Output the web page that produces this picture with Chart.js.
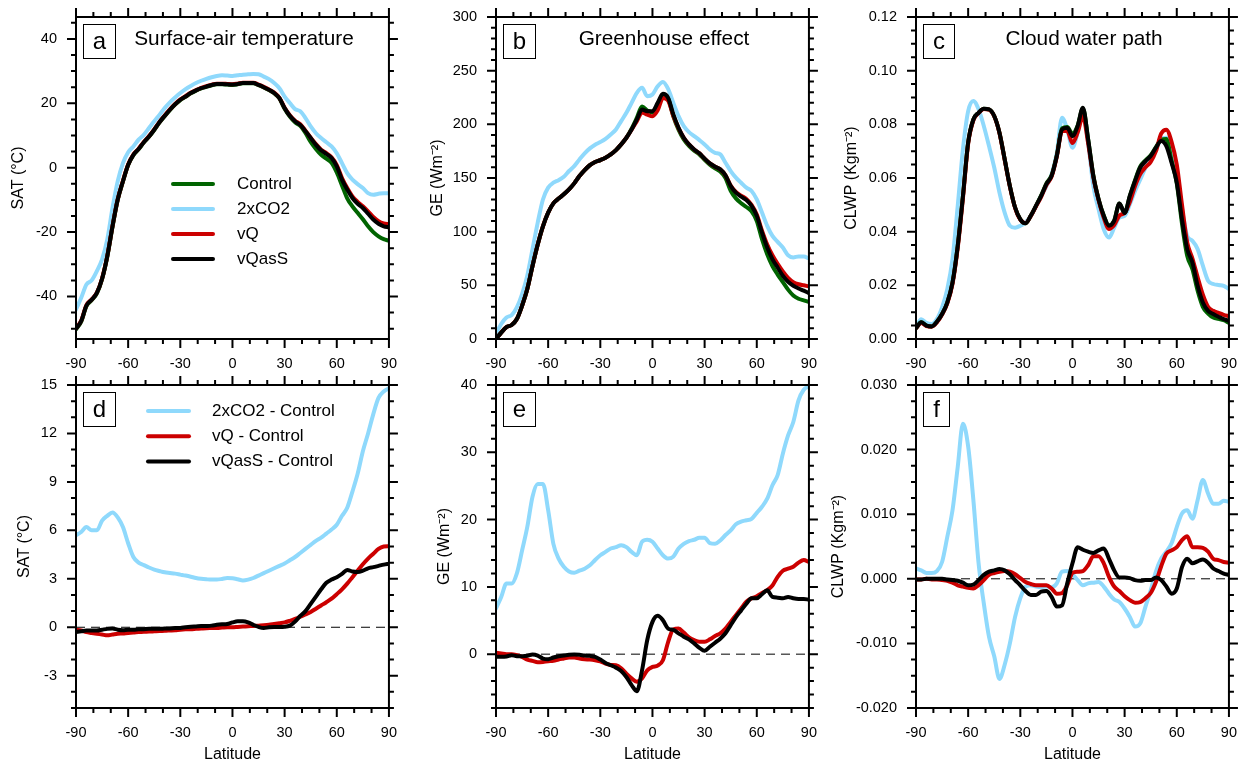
<!DOCTYPE html>
<html>
<head>
<meta charset="utf-8">
<script src="https://cdn.jsdelivr.net/npm/chart.js@4.4.1/dist/chart.umd.min.js"></script>
<style>
html,body{margin:0;padding:0;background:#fff;overflow:hidden;width:1253px;height:764px;}
canvas{position:absolute;}
</style>
</head>
<body>
<script>
// ---------------- DATA ----------------
const lats = [-90,-87,-84,-81,-78,-75,-72,-69,-66,-63,-60,-57,-54,-51,-48,-45,-42,-39,-36,-33,-30,-27,-24,-21,-18,-15,-12,-9,-6,-3,0,3,6,9,12,15,18,21,24,27,30,33,36,39,42,45,48,51,54,57,60,63,66,69,72,75,78,81,84,87,90];
const latTicks = [-90,-60,-30,0,30,60,90];
const refLat = [-90, 90];
const refZero = [0, 0];

const seriesNames = ['Control','2xCO2','vQ','vQasS'];
const diffNames = ['2xCO2 - Control','vQ - Control','vQasS - Control'];

// (a) Surface-air temperature (degC)
const satTicks = [-40,-20,0,20,40];
const satControl = [-50.2,-47.8,-43,-41.2,-39,-34.6,-27.6,-18.4,-10,-4.3, 0.8,3.9,5.7,7.8,9.6,11.7,14,16,17.9,19.6, 21,22,23.1,23.9,24.6,25.1,25.6,25.9,25.9,25.8, 25.7,25.9,26.2,26.2,26.2,25.6,24.9,24.1,23.1,21.5, 18.3,15.9,14.1,13,10.8,8,5.8,4,2.8,1.5, -1.5,-5.5,-9.5,-12,-14,-16,-18.2,-20,-21.3,-22.2,-22.7];
const sat2xCO2 = [-44,-40.4,-36.3,-35,-32.1,-28.5,-22.3,-12.5,-4.2,1.4, 4.8,6.6,8.7,10.2,12.3,14.4,16.4,18.5,20.3,21.8, 23.2,24.4,25.4,26.3,27,27.6,28.1,28.5,28.7,28.6, 28.5,28.7,28.9,29,29.1,29,28.3,27.5,26.3,24.7, 22.1,20.1,18.2,17.5,15.4,12.8,10.7,9.2,7.9,6.6, 4.5,1.4,-1.7,-3.7,-5.1,-6.3,-7.9,-8.4,-8.1,-7.9,-7.9];
const satVQ = [-49.9,-47.5,-42.7,-40.9,-38.8,-34.4,-27.4,-18.1,-9.8,-4.1, 1,4.1,5.9,8,9.8,11.9,14.2,16.2,18.1,19.8, 21.2,22.2,23.3,24.1,24.8,25.3,25.8,26.1,26.1,26, 25.9,26.1,26.4,26.4,26.4,25.8,25.1,24.3,23.3,21.7, 18.6,16.3,14.6,13.5,11.5,9.3,7.3,5.6,4.5,3.2, 0.8,-3.2,-6.3,-8.9,-10.6,-12,-13.6,-15.3,-16.6,-17.3,-17.5];
const satVQasS = [-50,-47.6,-42.8,-41,-38.9,-34.5,-27.5,-18.2,-9.9,-4.2, 0.9,4,5.8,7.9,9.7,11.8,14.1,16.1,18,19.7, 21.1,22.1,23.2,24,24.7,25.2,25.7,26,26,25.9, 25.8,26,26.3,26.3,26.3,25.7,25,24.2,23.2,21.6, 18.5,16.1,14.4,13.3,11.3,9.2,7.1,5.4,4.3,3, 0.4,-3.7,-6.8,-9.4,-11.2,-12.5,-14.3,-16.1,-17.4,-18.2,-18.5];

// (b) Greenhouse effect (W m-2)
const geTicks = [0,50,100,150,200,250,300];
const geControl = [0,6,11,13,18.6,31,46.5,68,88,105, 117.8,126.4,130.8,134.8,139.4,145,151.8,157.4,162,164.9, 166.7,168.9,172,176,181.3,187.5,196,206,216.5,213, 211,218,227,224,207.5,195,186,180,175.5,172, 167,162.5,159,156,150,138,131,126.5,123,119, 110,93,79,68,60,53,46,40.5,37.5,36,34.5];
const ge2xCO2 = [4.6,14,20,22.3,29.4,41.8,59,83.7,108.5,130, 141,145.6,148,151.2,156.5,161.1,167.3,173,177.6,181, 183.5,186.5,190.6,195.2,203,210.7,220,229.3,234,226.2, 227.8,235.5,239.5,233,220,207.6,198.3,192.7,189,185.3, 181.3,176.6,173.5,172,164.2,156.5,150.3,145.6,141,137.9, 130,117.8,105.4,96,90.5,85.2,78,76,76.9,76.9,75];
const geVQ = [0,6,11,13,18.6,31,46.5,68,88,105, 117.8,126.4,130.8,134.8,139.4,145,151.8,157.4,162,164.9, 166.7,168.9,172,176,181.3,187.5,195,203,211,209, 207.5,213,224.5,222,208,196.5,187.5,181.3,176.6,173, 168,163.6,160.5,158,152.5,143,137,133.5,130.5,125, 116,101,88,78,70,63,57,53,51,50,49];
const geVQasS = [0,6,11,13,18.6,31,46.5,68,88,105, 117.8,126.4,130.8,134.8,139.4,145,151.8,157.4,162,164.9, 166.7,168.9,172,176,181.3,187.5,195.2,204.5,213.8,212.3, 212.3,220,228.4,224.7,209.2,196.8,187.5,181.3,176.6,173, 168,163.6,160.5,158,152.5,142.5,136.3,132.6,129.5,124, 114.7,99.2,85.2,74.4,66.6,58.9,53.3,49.6,47.1,45,42.8];

// (c) Cloud water path (kg m-2)
const cwTicks = [0,0.02,0.04,0.06,0.08,0.10,0.12];
const cwControl = [.004,.0062,.005,.0047,.0064,.0093,.0136,.021,.0347,.0533, .0732,.0818,.0843,.0858,.0856,.0831,.0769,.067,.057,.049, .0446,.0431,.0459,.0496,.0535,.058,.061,.0685,.0785,.079, .0765,.0796,.086,.0745,.061,.0522,.046,.0423,.0441,.0505, .047,.0533,.0592,.0643,.0666,.0685,.0715,.0742,.0745,.0665, .058,.043,.031,.026,.018,.012,.0095,.008,.0075,.007,.006];
const cw2xCO2 = [.0043,.0074,.006,.0056,.0074,.0118,.0186,.0298,.0496,.0707, .0849,.0887,.0856,.0794,.0719,.0639,.0546,.0471,.0422,.0415, .0422,.0434,.0459,.0496,.0533,.057,.0614,.0694,.0825,.0781, .0713,.0769,.0843,.0732,.057,.0484,.0409,.0378,.0415,.0453, .0459,.0502,.0552,.0595,.0639,.0676,.0707,.0744,.075,.0707, .0608,.0484,.0384,.0366,.0335,.0273,.0217,.0205,.0201,.0198,.0186];
const cwVQ = [.0041,.006,.0048,.0046,.0062,.0091,.0133,.0205,.034,.0525, .0728,.0815,.0842,.0857,.0855,.083,.0768,.0668,.0568,.0489, .0445,.0432,.0458,.0494,.053,.0574,.0605,.068,.0775,.0775, .073,.077,.083,.073,.0603,.0518,.0452,.041,.0425,.046, .047,.051,.057,.0615,.064,.066,.07,.0765,.078,.0735, .065,.05,.036,.03,.023,.0165,.012,.0105,.0097,.009,.0085];
const cwVQasS = [.004,.0062,.005,.0047,.0064,.0093,.0136,.021,.0347,.0533, .0732,.0818,.0843,.0858,.0856,.0831,.0769,.067,.057,.049, .0446,.0431,.0459,.0496,.0533,.0577,.0608,.0682,.0781,.0787, .0756,.0794,.0862,.0744,.0608,.0521,.0459,.0422,.044,.0505, .047,.0533,.0589,.0639,.0663,.0682,.0713,.0738,.0719,.0657, .0583,.0446,.0335,.0285,.0198,.0136,.0105,.0093,.0083,.0074,.0068];

// (d) SAT differences (degC)
const dSatTicks = [-3,0,3,6,9,12,15];
const dSat2xCO2 = [5.7,5.9,6.2,6.0,6.0,6.6,6.9,7.1,6.8,6.2, 5.2,4.35,4.0,3.85,3.7,3.57,3.48,3.4,3.36,3.32, 3.26,3.2,3.13,3.05,3.0,2.97,2.95,2.95,2.99,3.05, 3.03,2.97,2.9,2.95,3.05,3.2,3.35,3.5,3.65,3.8, 3.95,4.15,4.35,4.6,4.85,5.1,5.35,5.55,5.8,6.05, 6.35,6.9,7.4,8.4,9.5,10.9,12,13.2,14.2,14.6,14.8];
const dSatVQ = [-0.15,-0.2,-0.3,-0.35,-0.4,-0.45,-0.5,-0.45,-0.4,-0.38, -0.35,-0.33,-0.3,-0.28,-0.27,-0.25,-0.23,-0.22,-0.2,-0.18, -0.15,-0.13,-0.12,-0.1,-0.08,-0.06,-0.05,-0.04,-0.02,0, 0,0.02,0.04,0.06,0.08,0.1,0.12,0.15,0.2,0.25, 0.3,0.4,0.52,0.65,0.8,0.95,1.15,1.35,1.55,1.77, 2.05,2.35,2.7,3.1,3.5,3.9,4.25,4.55,4.85,5.0,5.02];
const dSatVQasS = [-0.3,-0.25,-0.2,-0.2,-0.2,-0.15,-0.1,-0.08,-0.15,-0.18, -0.15,-0.15,-0.13,-0.12,-0.1,-0.1,-0.1,-0.08,-0.07,-0.05, -0.04,0,0.03,0.05,0.07,0.08,0.1,0.15,0.18,0.2, 0.3,0.37,0.37,0.3,0.15,0.02,-0.05,0,0.02,0.02, 0.03,0.1,0.35,0.7,1.0,1.45,1.9,2.35,2.75,2.95, 3.1,3.3,3.55,3.45,3.42,3.5,3.65,3.72,3.8,3.88,3.94];

// (e) GE differences (W m-2)
const dGeTicks = [0,10,20,30,40];
const dGe2xCO2 = [6.8,8.5,10.5,10.5,12,15.4,18.9,23.4,25.3,25.3, 21.4,16.4,14.2,13,12.3,12.1,12.4,12.7,13.2,14, 14.7,15.2,15.7,15.9,16.2,15.9,15.2,14.7,16.7,17, 16.7,15.7,14.7,14.2,14.5,15.7,16.4,16.8,17,17.3, 17.3,16.5,16.4,16.9,17.7,18.4,19.3,19.7,19.9,20.1, 21,21.9,23.1,25.1,26.6,29.8,32.5,34.5,37.7,39.3,39.8];
const dGeVQ = [0.2,0.1,0,0,-0.15,-0.4,-0.8,-1,-1.2,-1.15, -1.05,-1,-0.8,-0.65,-0.5,-0.5,-0.65,-0.75,-0.8,-0.9, -1.05,-1.4,-1.6,-1.65,-2.1,-2.9,-3.6,-4.1,-3.6,-2.4, -1.9,-1.7,-0.9,1.8,3.7,3.8,3.2,2.5,2.1,1.85, 1.85,2.2,2.7,3.1,3.8,4.8,5.8,6.8,7.8,8.3, 8.6,9.1,9.5,10.2,11.5,12.4,12.7,13,13.6,14,13.7];
const dGeVQasS = [-0.4,-0.4,-0.35,-0.15,-0.3,-0.3,-0.25,-0.05,-0.2,-0.65, -0.75,-0.5,-0.3,-0.2,-0.1,-0.05,-0.1,-0.2,-0.25,-0.4, -0.8,-1.3,-1.65,-2,-2.5,-3.4,-4.6,-5.5,-2.4,2.1, 4.8,5.7,5.05,3.8,3.6,3.1,2.6,2.2,1.6,0.95, 0.5,1.1,1.7,2.3,3.1,4.3,5.5,6.5,7.5,8.3, 8.3,8.9,9.5,8.5,8.4,8.3,8.5,8.3,8.2,8.2,8.1];

// (f) CLWP differences (kg m-2)
const dCwTicks = [-0.02,-0.01,0,0.01,0.02,0.03];
const dCw2xCO2 = [.0016,.0013,.0009,.0009,.0012,.0026,.0065,.0106,.0173,.024, .0205,.0122,.0024,-.0038,-.009,-.012,-.0155,-.0133,-.01,-.0059, -.003,-.0012,-.001,-.0012,-.0013,-.0012,-.0013,-.0007,.0011,.0012, .0007,-.0002,-.001,-.0007,-.0006,-.0005,-.0012,-.0023,-.0032,-.0036, -.0046,-.0059,-.0074,-.0069,-.0043,-.0018,.0011,.0031,.0042,.0055, .008,.0101,.0106,.0093,.0122,.0153,.0132,.0116,.0116,.0121,.0119];
const dCwVQ = [-.0001,-.0001,0,-.0001,-.0001,-.0002,-.0003,-.0006,-.001,-.0012, -.0014,-.0015,-.001,-.0002,.0006,.0009,.0011,.0012,.0011,.0007, .0001,-.0005,-.0008,-.001,-.001,-.001,-.0015,-.0023,-.0022,-.001, .0009,.0011,.0012,.0021,.0035,.0035,.0024,.0003,-.0012,-.0019, -.0027,-.0033,-.0037,-.0036,-.003,-.0022,-.0005,.0019,.0039,.0044, .0049,.006,.0066,.0049,.0049,.0048,.0042,.0031,.0029,.0026,.0025];
const dCwVQasS = [-.0001,-.0001,0,0,0,0,-.0001,-.0002,-.0003,-.0006, -.001,-.0009,-.0002,.0006,.0011,.0013,.0015,.0013,.0007,-.0002, -.001,-.0019,-.0025,-.0025,-.002,-.0019,-.0028,-.0043,-.0041,-.0007, .0024,.0049,.0045,.0042,.004,.0044,.0047,.0031,.0013,.0002, .0002,.0001,-.0002,-.0003,-.0002,-.0002,.0002,-.0002,-.0012,-.0023, -.0015,.0018,.0031,.0024,.0027,.003,.0025,.0016,.0012,.0008,.0006];

// ---------------- STYLE ----------------
const FONT = '"Liberation Sans", Arial, Helvetica, sans-serif';
const C_CONTROL = '#006400', C_CO2 = '#8fd9fc', C_VQ = '#cc0000', C_VQASS = '#000000';

function lineDs(label, values, color, order) {
  return {
    label, data: lats.map((x, i) => ({x, y: values[i]})),
    borderColor: color, backgroundColor: color, borderWidth: 4,
    pointRadius: 0, cubicInterpolationMode: 'monotone', order,
    borderCapStyle: 'round', borderJoinStyle: 'round', fill: false
  };
}
function zeroDs() {
  return {
    label: '', data: refLat.map((x, i) => ({x, y: refZero[i]})),
    borderColor: '#000', borderWidth: 1, borderDash: [9, 6],
    pointRadius: 0, order: 10, fill: false
  };
}

const decoPlugin = {
  id: 'deco',
  afterDraw(chart, args, o) {
    const ctx = chart.ctx, a = chart.chartArea;
    const xs = chart.scales.x, ys = chart.scales.y;
    ctx.save();
    ctx.strokeStyle = '#000'; ctx.lineWidth = 2; ctx.lineCap = 'butt';
    const drawTicks = (scale, minor, major, horizontal) => {
      const start = Math.ceil(scale.min / minor - 1e-9);
      const end = Math.floor(scale.max / minor + 1e-9);
      ctx.beginPath();
      for (let k = start; k <= end; k++) {
        const v = k * minor;
        const isMajor = Math.abs(v / major - Math.round(v / major)) < 1e-6;
        const len = isMajor ? 9 : 5;
        const p = scale.getPixelForValue(v);
        if (horizontal) {
          ctx.moveTo(p, a.bottom); ctx.lineTo(p, a.bottom + len);
          ctx.moveTo(p, a.top); ctx.lineTo(p, a.top - len);
        } else {
          ctx.moveTo(a.left, p); ctx.lineTo(a.left - len, p);
          ctx.moveTo(a.right, p); ctx.lineTo(a.right + len, p);
        }
      }
      ctx.stroke();
    };
    drawTicks(xs, o.xMinor, o.xMajor, true);
    drawTicks(ys, o.yMinor, o.yMajor, false);
    ctx.strokeRect(a.left, a.top, a.right - a.left, a.bottom - a.top);

    // panel letter box
    ctx.font = '24px ' + FONT;
    const tw = ctx.measureText(o.letter).width;
    const bx = Math.round(a.left + 7) + 0.5, by = Math.round(a.top + 7) + 0.5, bw = Math.round(tw + 19), bh = 34;
    ctx.lineWidth = 1; ctx.strokeRect(bx, by, bw, bh);
    ctx.fillStyle = '#000'; ctx.textAlign = 'center'; ctx.textBaseline = 'middle';
    ctx.fillText(o.letter, bx + bw / 2, by + bh / 2 + 1);
    if (o.title) {
      ctx.font = '20.8px ' + FONT;
      ctx.fillText(o.title, a.left + 168, a.top + 22);
    }
    if (o.legend) {
      const L = o.legend;
      ctx.font = '17px ' + FONT; ctx.textAlign = 'left';
      L.items.forEach((idx, j) => {
        const ds = chart.data.datasets[idx];
        const y = a.top + L.y0 + j * L.dy;
        ctx.strokeStyle = ds.borderColor; ctx.lineWidth = 4; ctx.lineCap = 'round';
        ctx.beginPath(); ctx.moveTo(a.left + L.x0, y); ctx.lineTo(a.left + L.x1, y); ctx.stroke();
        ctx.fillText(ds.label, a.left + L.tx, y);
      });
    }
    ctx.restore();
  }
};

const PLOT_W = 323, WR = 14, HT = 28;
const panels = [
  {letter:'a', cl:11, ct:17 - HT, wl:65, ph:322, hb:40, bottomRow:false,
   yMin:-53.2, yMax:46.8, yTicks:satTicks, yMinor:5, yMajor:20, dec:0, yTitle:'SAT (°C)',
   title:'Surface-air temperature',
   datasets:[lineDs(seriesNames[0], satControl, C_CONTROL, 2), lineDs(seriesNames[1], sat2xCO2, C_CO2, 3), lineDs(seriesNames[2], satVQ, C_VQ, 1), lineDs(seriesNames[3], satVQasS, C_VQASS, 0)],
   legend:{items:[0,1,2,3], x0:97, x1:137, tx:161, y0:167, dy:25}},
  {letter:'b', cl:430, ct:17 - HT, wl:66, ph:322, hb:40, bottomRow:false,
   yMin:0, yMax:300, yTicks:geTicks, yMinor:10, yMajor:50, dec:0, yTitle:'GE (Wm⁻²)',
   title:'Greenhouse effect',
   datasets:[lineDs(seriesNames[0], geControl, C_CONTROL, 2), lineDs(seriesNames[1], ge2xCO2, C_CO2, 3), lineDs(seriesNames[2], geVQ, C_VQ, 1), lineDs(seriesNames[3], geVQasS, C_VQASS, 0)]},
  {letter:'c', cl:844, ct:17 - HT, wl:72, ph:322, hb:40, bottomRow:false,
   yMin:0, yMax:0.12, yTicks:cwTicks, yMinor:0.005, yMajor:0.02, dec:2, yTitle:'CLWP (Kgm⁻²)',
   title:'Cloud water path',
   datasets:[lineDs(seriesNames[0], cwControl, C_CONTROL, 2), lineDs(seriesNames[1], cw2xCO2, C_CO2, 3), lineDs(seriesNames[2], cwVQ, C_VQ, 1), lineDs(seriesNames[3], cwVQasS, C_VQASS, 0)]},
  {letter:'d', cl:17, ct:385 - HT, wl:59, ph:323, hb:55, bottomRow:true,
   yMin:-5, yMax:15, yTicks:dSatTicks, yMinor:1, yMajor:3, dec:0, yTitle:'SAT (°C)',
   datasets:[lineDs(diffNames[0], dSat2xCO2, C_CO2, 3), lineDs(diffNames[1], dSatVQ, C_VQ, 1), lineDs(diffNames[2], dSatVQasS, C_VQASS, 0), zeroDs()],
   legend:{items:[0,1,2], x0:72, x1:113, tx:136, y0:26, dy:25.2}},
  {letter:'e', cl:437, ct:385 - HT, wl:59, ph:323, hb:55, bottomRow:true,
   yMin:-8, yMax:40, yTicks:dGeTicks, yMinor:2, yMajor:10, dec:0, yTitle:'GE (Wm⁻²)',
   datasets:[lineDs(diffNames[0], dGe2xCO2, C_CO2, 3), lineDs(diffNames[1], dGeVQ, C_VQ, 1), lineDs(diffNames[2], dGeVQasS, C_VQASS, 0), zeroDs()]},
  {letter:'f', cl:831, ct:385 - HT, wl:85, ph:323, hb:55, bottomRow:true,
   yMin:-0.02, yMax:0.03, yTicks:dCwTicks, yMinor:0.0025, yMajor:0.01, dec:3, yTitle:'CLWP (Kgm⁻²)',
   datasets:[lineDs(diffNames[0], dCw2xCO2, C_CO2, 3), lineDs(diffNames[1], dCwVQ, C_VQ, 1), lineDs(diffNames[2], dCwVQasS, C_VQASS, 0), zeroDs()]}
];

panels.forEach(p => {
  const cv = document.createElement('canvas');
  const W = p.wl + PLOT_W + WR, H = HT + p.ph + p.hb;
  cv.width = W; cv.height = H;
  cv.style.left = p.cl + 'px'; cv.style.top = p.ct + 'px';
  cv.style.width = W + 'px'; cv.style.height = H + 'px';
  document.body.appendChild(cv);
  new Chart(cv, {
    type: 'line',
    data: {datasets: p.datasets},
    plugins: [decoPlugin],
    options: {
      responsive: false, animation: false, devicePixelRatio: 1,
      layout: {padding: {left: 0, right: WR, top: HT, bottom: 0}},
      plugins: {
        legend: {display: false}, tooltip: {enabled: false},
        deco: {letter: p.letter, title: p.title, legend: p.legend, xMinor: 10, xMajor: 30, yMinor: p.yMinor, yMajor: p.yMajor}
      },
      scales: {
        x: {
          type: 'linear', min: -90, max: 90, position: 'bottom',
          afterBuildTicks: s => { s.ticks = latTicks.map(v => ({value: v})); },
          afterFit: s => { s.height = p.hb; },
          grid: {display: false, drawTicks: false}, border: {display: false},
          ticks: {font: {family: FONT, size: 14.5}, color: '#000', padding: 16, maxRotation: 0, autoSkip: false,
                  callback: v => String(v)},
          title: {display: p.bottomRow, text: 'Latitude', color: '#000', padding: 0,
                  font: {family: FONT, size: 16, lineHeight: 1}}
        },
        y: {
          type: 'linear', min: p.yMin, max: p.yMax, position: 'left',
          afterBuildTicks: s => { s.ticks = p.yTicks.map(v => ({value: v})); },
          afterFit: s => { s.width = p.wl; },
          grid: {display: false, drawTicks: false}, border: {display: false},
          ticks: {font: {family: FONT, size: 14.5}, color: '#000', padding: 19, autoSkip: false,
                  callback: v => Number(v).toFixed(p.dec)},
          title: {display: true, text: p.yTitle, color: '#000', padding: 0,
                  font: {family: FONT, size: 16, lineHeight: 1}}
        }
      }
    }
  });
});
</script>
</body>
</html>
